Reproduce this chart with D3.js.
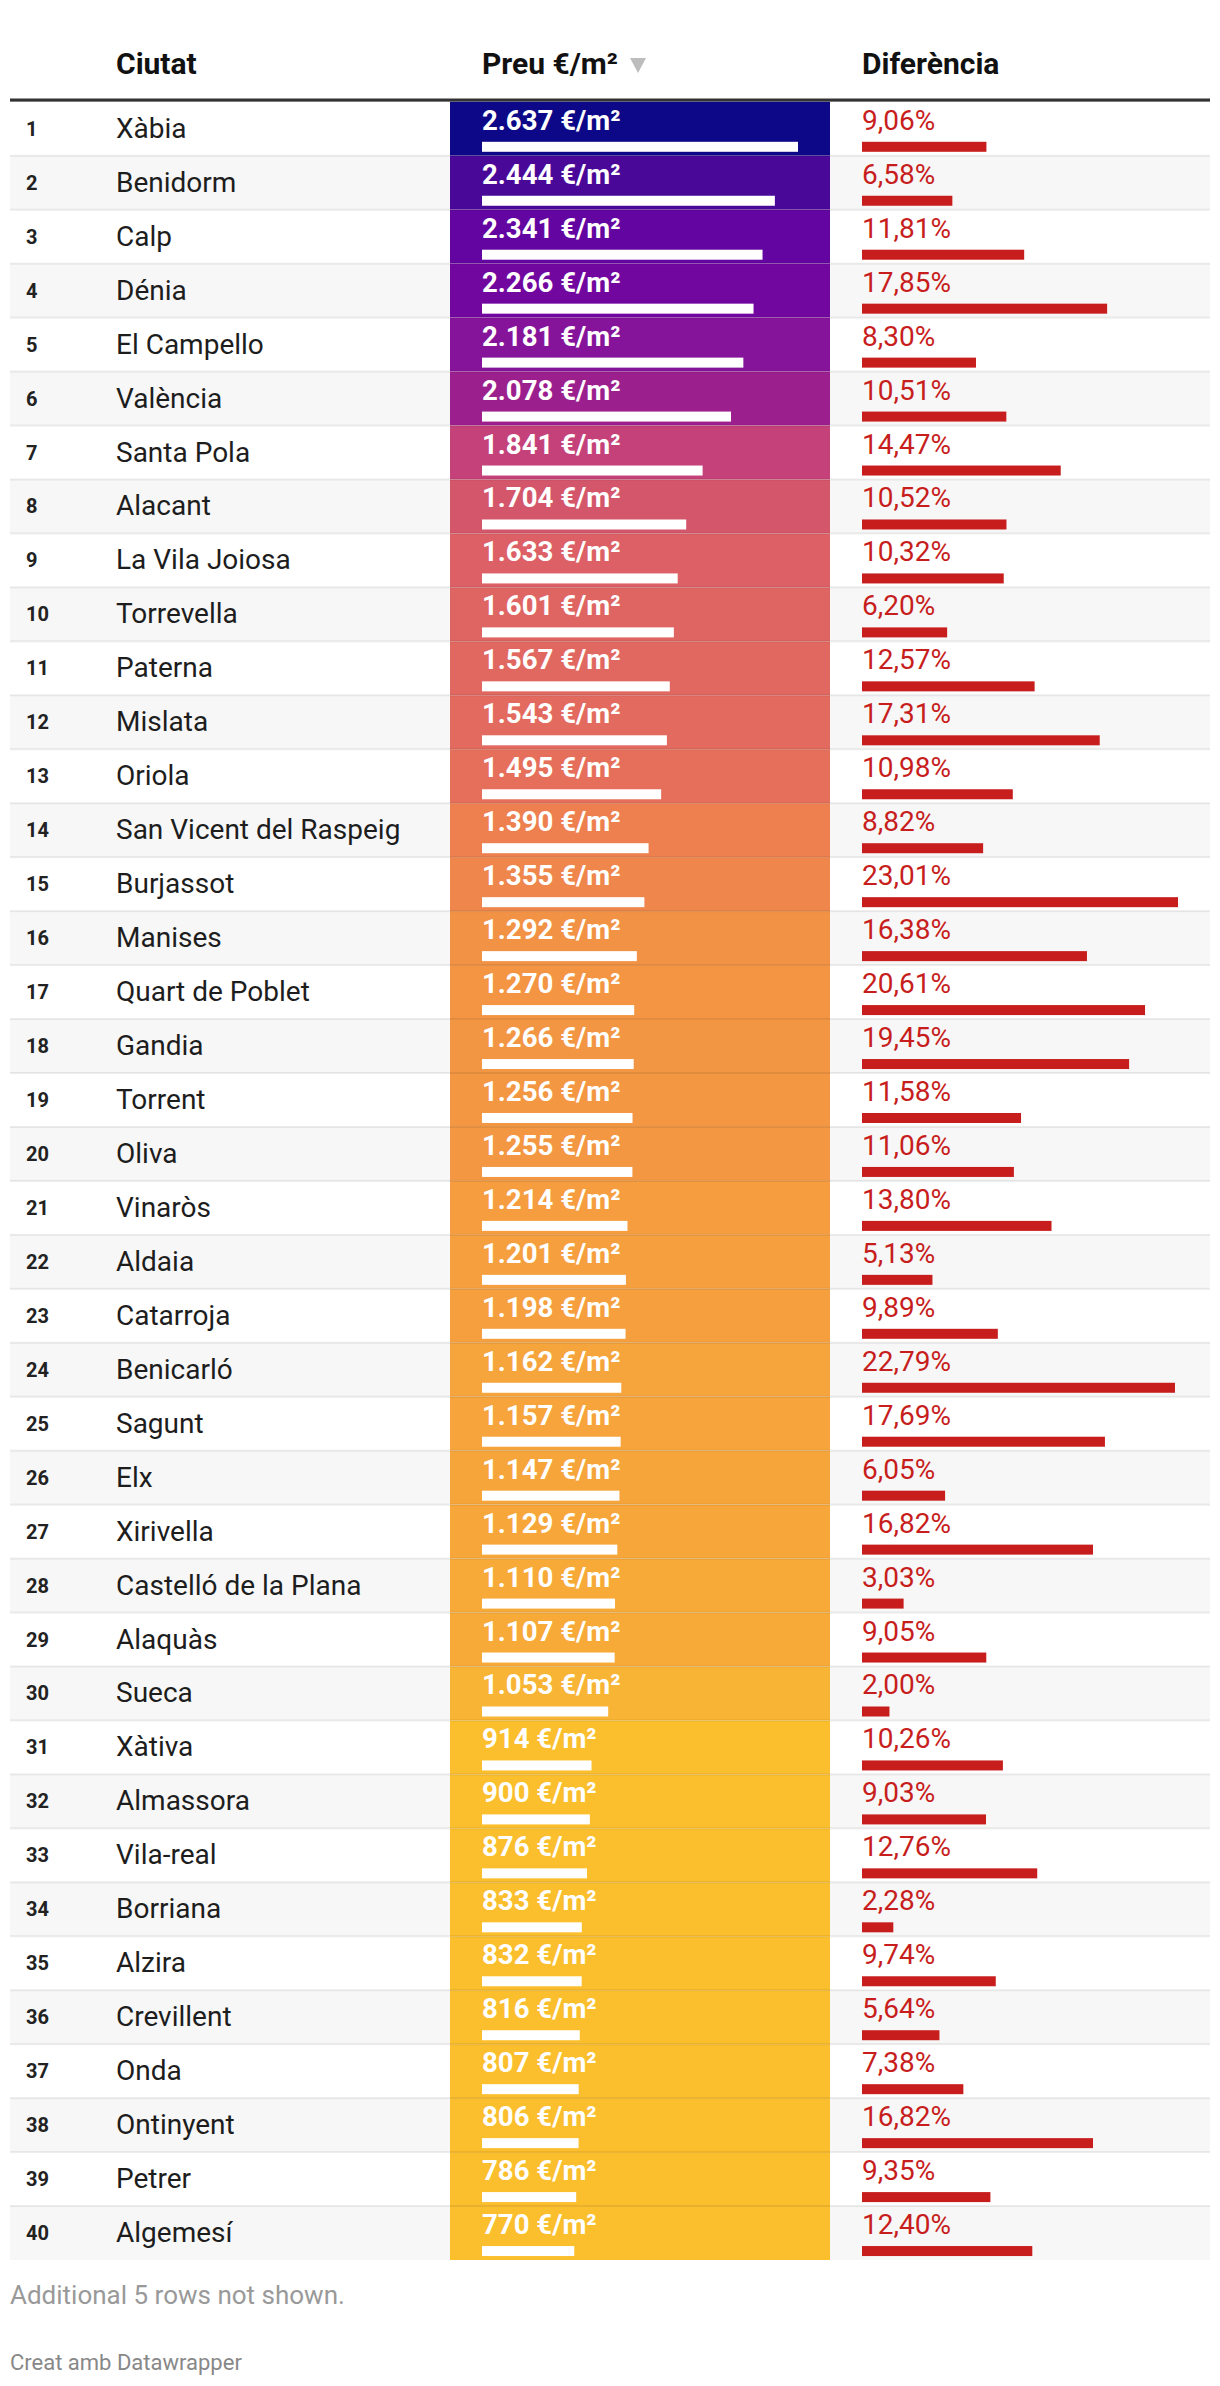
<!DOCTYPE html>
<html>
<head>
<meta charset="utf-8">
<script src="https://cdn.jsdelivr.net/npm/d3@7"></script>
<style>
  html, body { margin: 0; padding: 0; background: #fff; }
  svg { display: block; font-family: Roboto, "Noto Sans", sans-serif; }
</style>
</head>
<body>
<div id="chart"></div>
<script>
// ---------- data ----------
const columns = ["", "Ciutat", "Preu €/m²", "Diferència"];
const cities = ["Xàbia","Benidorm","Calp","Dénia","El Campello","València","Santa Pola","Alacant","La Vila Joiosa","Torrevella","Paterna","Mislata","Oriola","San Vicent del Raspeig","Burjassot","Manises","Quart de Poblet","Gandia","Torrent","Oliva","Vinaròs","Aldaia","Catarroja","Benicarló","Sagunt","Elx","Xirivella","Castelló de la Plana","Alaquàs","Sueca","Xàtiva","Almassora","Vila-real","Borriana","Alzira","Crevillent","Onda","Ontinyent","Petrer","Algemesí"];
const prices = [2637,2444,2341,2266,2181,2078,1841,1704,1633,1601,1567,1543,1495,1390,1355,1292,1270,1266,1256,1255,1214,1201,1198,1162,1157,1147,1129,1110,1107,1053,914,900,876,833,832,816,807,806,786,770];
const diffs = [9.06,6.58,11.81,17.85,8.30,10.51,14.47,10.52,10.32,6.20,12.57,17.31,10.98,8.82,23.01,16.38,20.61,19.45,11.58,11.06,13.80,5.13,9.89,22.79,17.69,6.05,16.82,3.03,9.05,2.00,10.26,9.03,12.76,2.28,9.74,5.64,7.38,16.82,9.35,12.40];
const colorStopValues = [2637,2444,2341,2266,2181,2078,1841,1704,1601,1495,1390,1292,1201,1107,1053,1000];
const colorStopColors = ["#0d0887","#4a0899","#6305a0","#7207a0","#85149a","#9c1f8e","#c4417a","#d4566b","#df6563","#e66f5b","#ee8050","#f29245","#f59f3e","#f7aa38","#f8b434","#fbbe2c"];
const notes = ["Additional 5 rows not shown.", "Creat amb Datawrapper"];

// ---------- layout ----------
const W = 1220, H = 2386;
const left = 10, right = 1210;
const headerBorderY = 98.5, headerBorderH = 3.3;
const top0 = 101.8, bottom0 = 2260;
const n = cities.length;
const colPreuX = 450, colDifX = 830, colW = 380, pad = 32;

const loc = d3.formatLocale({decimal: ",", thousands: ".", grouping: [3], currency: ["", "€"]});
const fPrice = loc.format(",d");
const fPct = loc.format(".2f");

const y = d3.scaleBand().domain(d3.range(n)).range([top0, bottom0]).paddingInner(0).paddingOuter(0);
const rh = y.bandwidth();
const xPrice = d3.scaleLinear().domain([0, d3.max(prices)]).range([0, colW - 2 * pad]);
const xDiff = d3.scaleLinear().domain([0, d3.max(diffs)]).range([0, colW - 2 * pad]);
const color = d3.scaleLinear().domain(colorStopValues).range(colorStopColors).clamp(true);

const svg = d3.select("#chart").append("svg").attr("width", W).attr("height", H);

// header
const hdr = svg.append("g").attr("font-weight", 700).attr("font-size", 30).attr("fill", "#111");
hdr.append("text").attr("x", 116).attr("y", 74).text(columns[1]);
const preuHdr = hdr.append("text").attr("x", colPreuX + pad).attr("y", 74).text(columns[2]);
hdr.append("text").attr("x", colDifX + pad).attr("y", 74).text(columns[3]);
const pw = preuHdr.node().getComputedTextLength();
const tx = colPreuX + pad + pw + 12;
svg.append("path")
  .attr("d", `M${tx},58 L${tx + 16},58 L${tx + 8},73 Z`)
  .attr("fill", "#bdbdbd");

svg.append("rect").attr("x", left).attr("y", headerBorderY).attr("width", right - left).attr("height", headerBorderH).attr("fill", "#333");

const rows = svg.append("g").selectAll("g").data(d3.range(n)).join("g")
  .attr("transform", i => `translate(0,${y(i)})`);

// zebra background
rows.append("rect").attr("x", left).attr("y", 0).attr("width", right - left).attr("height", rh)
  .attr("fill", i => i % 2 === 1 ? "#f7f7f7" : "#ffffff");

// price cell background
rows.append("rect").attr("x", colPreuX).attr("y", 0).attr("width", colW).attr("height", rh)
  .attr("fill", i => color(prices[i]));

// separators
rows.filter(i => i > 0).append("rect").attr("x", left).attr("y", -1).attr("width", right - left).attr("height", 2)
  .attr("fill", "rgba(0,0,0,0.075)");

// rank
rows.append("text").attr("x", 26).attr("y", 34).attr("font-size", 20).attr("font-weight", 700).attr("fill", "#222")
  .text(i => i + 1);

// city
rows.append("text").attr("x", 116).attr("y", 36).attr("font-size", 28).attr("fill", "#1d1d1d")
  .text(i => cities[i]);

// price
rows.append("text").attr("x", colPreuX + pad).attr("y", 28).attr("font-size", 27.6).attr("font-weight", 700).attr("fill", "#fff")
  .text(i => fPrice(prices[i]) + " €/m²");
rows.append("rect").attr("x", colPreuX + pad).attr("y", 40).attr("height", 10)
  .attr("width", i => xPrice(prices[i])).attr("fill", "#fff");

// diff
rows.append("text").attr("x", colDifX + pad).attr("y", 28).attr("font-size", 28).attr("fill", "#c71e1d")
  .text(i => fPct(diffs[i]) + "%");
rows.append("rect").attr("x", colDifX + pad).attr("y", 40).attr("height", 10)
  .attr("width", i => xDiff(diffs[i])).attr("fill", "#c71e1d");

// notes
svg.append("text").attr("x", 10).attr("y", 2304).attr("font-size", 26).attr("fill", "#999").text(notes[0]);
svg.append("text").attr("x", 10).attr("y", 2370).attr("font-size", 22).attr("fill", "#888").text(notes[1]);
</script>
</body>
</html>
